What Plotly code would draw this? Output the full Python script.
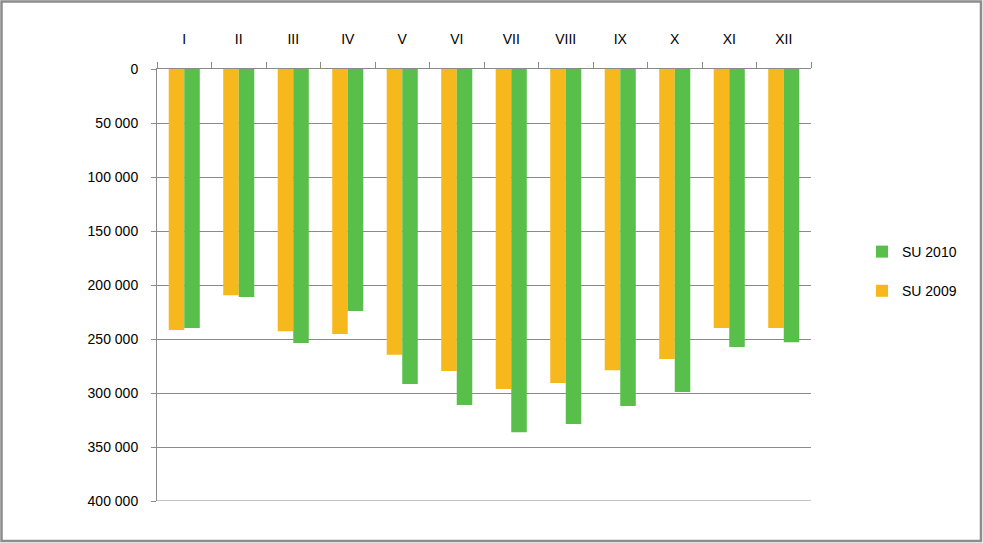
import plotly.graph_objects as go

months = ["I", "II", "III", "IV", "V", "VI", "VII", "VIII", "IX", "X", "XI", "XII"]
su_2009 = [241700, 209500, 242900, 245400, 264500, 279600, 296300, 290700, 279000, 268500, 239800, 239800]
su_2010 = [239800, 211100, 253700, 224100, 291700, 311100, 336400, 328700, 312000, 299100, 257400, 253000]
tick_vals = [0, 50000, 100000, 150000, 200000, 250000, 300000, 350000, 400000]
tick_text = ["0", "50 000", "100 000", "150 000", "200 000", "250 000", "300 000", "350 000", "400 000"]

ORANGE = "#F6B81C"
GREEN = "#58BF4A"
GRID = "#8A8A8A"
FONT = "Liberation Sans"

fig = go.Figure()
fig.add_trace(go.Bar(x=months, y=su_2009, name="SU 2009", marker_color=ORANGE,
                     marker_line_width=0, legendgroup="a", legendrank=2))
fig.add_trace(go.Bar(x=months, y=su_2010, name="SU 2010", marker_color=GREEN,
                     marker_line_width=0, legendgroup="b", legendrank=1))

L, R, T, B = 157, 172, 69, 42
W, H = 983, 543
pw, ph = W - L - R, H - T - B

fig.update_layout(
    width=W, height=H,
    margin=dict(l=L, r=R, t=T, b=B),
    paper_bgcolor="white", plot_bgcolor="white",
    barmode="group", bargap=0.43, bargroupgap=0,
    font=dict(family=FONT, size=14, color="#000000"),
    showlegend=True,
    legend=dict(tracegroupgap=18,
                x=(862 - L) / pw, xanchor="left",
                y=(H - B - 236) / ph, yanchor="top",
                font=dict(size=14), bgcolor="rgba(0,0,0,0)"),
    xaxis=dict(side="top", type="category", tickson="boundaries",
               ticks="outside", ticklen=6, tickcolor=GRID,
               showline=True, linecolor=GRID, linewidth=1,
               showgrid=False, ticklabelstandoff=18, zeroline=False),
    yaxis=dict(range=[400000, 0], tickvals=tick_vals, ticktext=tick_text,
               ticks="outside", ticklen=5, tickcolor=GRID,
               showline=True, linecolor=GRID, linewidth=1,
               showgrid=True, gridcolor=GRID, gridwidth=1,
               zeroline=False, ticklabelstandoff=10),
    shapes=[dict(type="rect", xref="paper", yref="paper",
                 x0=(1.5 - L) / pw, x1=(981 - L) / pw,
                 y0=(H - B - 541) / ph, y1=(H - B - 1.5) / ph,
                 line=dict(color="#8C8C8C", width=2.5), fillcolor="rgba(0,0,0,0)",
                 layer="below"),
            dict(type="line", xref="paper", yref="y",
                 x0=0, x1=1, y0=tick_vals[-1], y1=tick_vals[-1],
                 line=dict(color=GRID, width=1), layer="below")],
)

fig.write_html("out.html")
